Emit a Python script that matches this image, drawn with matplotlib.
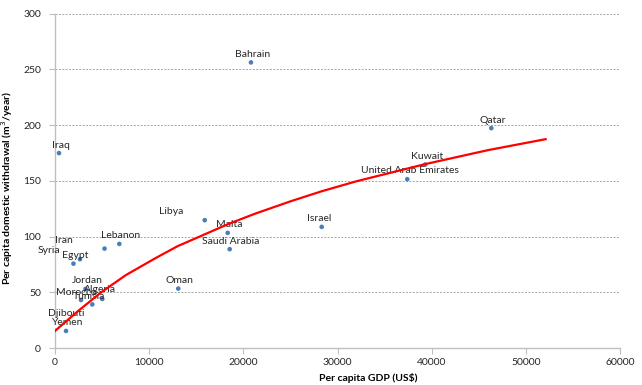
import matplotlib

matplotlib.use("Agg")
import matplotlib.pyplot as plt  # noqa: E402

BLUE, RED, AXIS, GRID, INK = "#4a7ebb", "#ff0000", "#bfbfbf", "#a6a6a6", "#262626"

countries = [
    "Iraq", "Bahrain", "Qatar", "Kuwait", "United Arab Emirates", "Israel", "Malta",
    "Saudi Arabia", "Libya", "Oman", "Lebanon", "Iran", "Syria", "Egypt", "Jordan",
    "Morocco", "Algeria", "Tunisia", "Djibouti", "Yemen",
]
gdp = [
    425, 20810, 46330, 39320, 37410, 28320, 18340,
    18550, 15900, 13090, 6830, 5260, 2650, 1960, 3240,
    2760, 5020, 3960, 1060, 1170,
]
withdrawal = [
    174.9, 256.3, 197.3, 164.6, 151.5, 108.7, 103.3,
    88.7, 114.7, 53.3, 93.4, 89.2, 79.7, 75.7, 53.0,
    43.1, 44.0, 39.1, 23.4, 15.3,
]

# red trend line
trend_gdp = [0, 2400, 4800, 7500, 10600, 13000, 15600, 18300, 21200, 25000, 28300, 32000, 39300, 46000, 52100]
trend_val = [15.3, 32.8, 49.3, 65.3, 80.3, 91.3, 100.9, 110.9, 120.4, 131.6, 140.6, 149.6, 165.0, 177.6, 187.4]

# label offsets in pixels where the label is not just above its point
OFFSETS = {
    "Libya": (-34, 8.6),
    "Iran": (-41, 7.7),
    "Syria": (-31, 8.6),
    "Morocco": (-4.3, 7.7),
    "Algeria": (-2.3, 9),
    "Tunisia": (-3, 7.8),
    "Israel": (-2.4, 8),
    "United Arab Emirates": (2.7, 8.3),
}

plt.rcParams.update({"font.family": ["Lato", "DejaVu Sans"], "font.size": 7.5, "text.color": INK})

fig = plt.figure(figsize=(6.42, 3.85), dpi=100)
ax = fig.add_axes([55 / 642, 37 / 385, 565 / 642, 334.3 / 385])

ax.set_xlim(0, 60000)
ax.set_ylim(0, 300)
ax.set_xticks(range(0, 60001, 10000))
ax.set_yticks(range(0, 301, 50))
ax.yaxis.grid(True, color=GRID, lw=0.7, ls=(0, (2, 1.5)))
ax.set_axisbelow(True)
for s in ["top", "right"]:
    ax.spines[s].set_visible(False)
for s in ["left", "bottom"]:
    ax.spines[s].set_color(AXIS)
    ax.spines[s].set_linewidth(1.0)
ax.tick_params(axis="both", colors=AXIS, labelcolor=INK, length=4, width=0.8, labelsize=7.5)
ax.tick_params(axis="y", pad=6)

ax.scatter(gdp, withdrawal, s=11, color=BLUE, zorder=2, edgecolors="none")
ax.plot(trend_gdp, trend_val, color=RED, lw=1.6, zorder=5, solid_joinstyle="round")

for name, x, y in zip(countries, gdp, withdrawal):
    dx, dy = OFFSETS.get(name, (1.5, 8))
    kw = {}
    if name == "Yemen":
        kw["bbox"] = dict(facecolor="white", edgecolor="none", pad=0.3)
    ax.annotate(
        name,
        (x, y),
        xytext=(dx, dy),
        textcoords="offset pixels",
        ha="center",
        va="center",
        fontsize=7.5,
        zorder=3,
        **kw,
    )

ax.set_xlabel("Per capita GDP (US$)", fontweight="bold", fontsize=7.5)
ax.set_ylabel("Per capita domestic withdrawal (m$^3$/year)", fontweight="bold", fontsize=7.5)
ax.xaxis.set_label_coords((368 - 55) / 565, -(373 - 348) / 334.3)
ax.yaxis.set_label_coords(-(55 - 15) / 565, (348 - 188) / 334.3)

fig.savefig("out.png", dpi=100)
